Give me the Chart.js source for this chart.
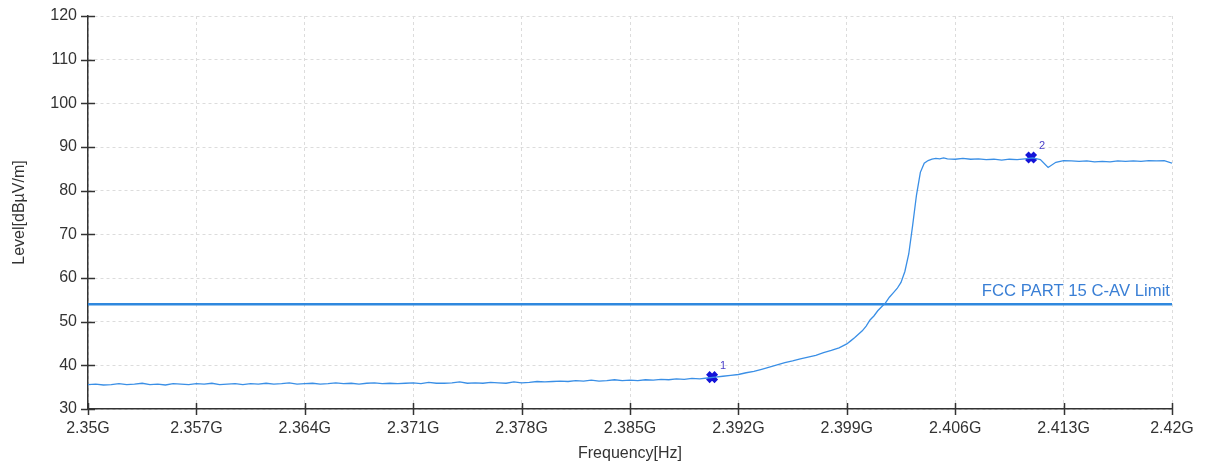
<!DOCTYPE html>
<html>
<head>
<meta charset="utf-8">
<script src="https://cdn.jsdelivr.net/npm/chart.js@4"></script>
<style>
  html, body { margin: 0; padding: 0; background: #fff; }
  #wrap { width: 1207px; height: 466px; }
</style>
</head>
<body>
<div id="wrap"><canvas id="specChart" width="1207" height="466"></canvas></div>
<script>
// frequency in MHz
const freqs = [
  2350,2350.5,2351,2351.5,2352,2352.5,2353,2353.5,2354,2354.5,2355,2355.5,2356,2356.5,2357,2357.5,2358,2358.5,2359,2359.5,2360,
  2360.5,2361,2361.5,2362,2362.5,2363,2363.5,2364,2364.5,2365,2365.5,2366,2366.5,2367,2367.5,2368,2368.5,2369,2369.5,2370,
  2370.5,2371,2371.5,2372,2372.5,2373,2373.5,2374,2374.5,2375,2375.5,2376,2376.5,2377,2377.5,2378,2378.5,2379,2379.5,2380,
  2380.5,2381,2381.5,2382,2382.5,2383,2383.5,2384,2384.5,2385,2385.5,2386,2386.5,2387,2387.5,2388,2388.5,2389,2389.5,2390,
  2390.5,2391,2391.5,2392,2392.5,2393,2393.5,2394,2394.5,2395,2395.5,2396,2396.5,2397,2397.5,2398,2398.5,2399,
  2399.25,2399.5,2399.75,2400,2400.25,2400.5,2400.75,2401,2401.25,2401.5,2401.75,2402,2402.25,2402.5,2402.75,
  2403,2403.25,2403.5,2403.75,2404,2404.25,2404.5,2404.75,2405,2405.25,2405.5,
  2406,2406.5,2407,2407.5,2408,2408.5,2409,2409.5,2410,2410.5,2411,2411.5,2412,2412.5,2413,2413.5,
  2414,2414.5,2415,2415.5,2416,2416.5,2417,2417.5,2418,2418.5,2419,2419.5,2420
];
const levels = [
  35.6,35.7,35.5,35.6,35.8,35.6,35.7,35.9,35.6,35.7,35.5,35.8,35.7,35.6,35.8,35.7,35.9,35.6,35.7,35.8,35.6,
  35.8,35.7,35.9,35.7,35.8,36.0,35.7,35.8,35.9,35.7,35.8,36.0,35.8,35.9,35.7,35.9,36.0,35.8,35.9,35.8,
  35.9,36.0,35.8,36.1,35.9,35.9,36.0,36.2,35.9,36.0,35.9,36.1,36.0,35.9,36.2,36.0,36.1,36.3,36.2,36.3,
  36.4,36.3,36.5,36.4,36.6,36.4,36.5,36.7,36.5,36.6,36.5,36.7,36.6,36.8,36.7,36.9,36.8,37.0,36.9,37.1,
  37.3,37.5,37.7,37.9,38.3,38.6,39.1,39.6,40.1,40.6,41.0,41.5,41.9,42.3,42.9,43.4,44.0,44.9,
  45.6,46.3,47.1,47.9,49.0,50.4,51.3,52.5,53.4,54.3,55.6,56.6,57.6,59.0,61.5,
  65.5,72.0,79.0,84.2,86.3,86.9,87.2,87.4,87.3,87.5,87.3,
  87.2,87.4,87.2,87.3,87.1,87.2,87.0,87.2,87.1,87.3,87.5,87.1,85.3,86.5,86.9,86.8,
  86.7,86.8,86.6,86.7,86.6,86.8,86.7,86.8,86.7,86.9,86.8,86.9,86.3
];
const limitFreqs = [2350, 2420];
const limitLevels = [54, 54];
const limitName = 'FCC PART 15 C-AV Limit';
const markerFreqs = [2390.3, 2410.9];
const markerLevels = [37.3, 87.6];
const markerNames = ['1', '2'];

const font = 'Arial, "Liberation Sans", sans-serif';

const extras = {
  id: 'extras',
  afterDraw(chart) {
    const ctx = chart.ctx;
    const xs = chart.scales.x, ys = chart.scales.y;
    const a = chart.chartArea;
    ctx.save();
    // tick marks crossing the axes
    ctx.strokeStyle = '#333';
    ctx.lineWidth = 1.5;
    ys.ticks.forEach(t => {
      const y = Math.round(ys.getPixelForValue(t.value)) + 0.5;
      ctx.beginPath(); ctx.moveTo(a.left - 7, y); ctx.lineTo(a.left + 7, y); ctx.stroke();
    });
    xs.ticks.forEach(t => {
      const x = Math.round(xs.getPixelForValue(t.value)) + 0.5;
      ctx.beginPath(); ctx.moveTo(x, a.bottom - 6); ctx.lineTo(x, a.bottom + 6); ctx.stroke();
    });
    // limit label
    ctx.fillStyle = '#3a7fd5';
    ctx.font = '16.7px ' + font;
    ctx.textAlign = 'right';
    ctx.textBaseline = 'alphabetic';
    ctx.fillText(limitName, a.right - 2, ys.getPixelForValue(limitLevels[1]) - 8);
    // marker numbers
    ctx.fillStyle = '#4a3fc8';
    ctx.font = '11px ' + font;
    ctx.textAlign = 'left';
    markerNames.forEach((n, i) => {
      ctx.fillText(n, xs.getPixelForValue(markerFreqs[i]) + 8, ys.getPixelForValue(markerLevels[i]) - 8);
    });
    ctx.restore();
  }
};

new Chart(document.getElementById('specChart'), {
  type: 'line',
  data: {
    datasets: [
      {
        label: 'Level',
        data: freqs.map((f, i) => ({x: f, y: levels[i]})),
        borderColor: '#3a8fe6',
        borderWidth: 1.3,
        pointRadius: 0,
        tension: 0
      },
      {
        label: 'Limit',
        data: limitFreqs.map((f, i) => ({x: f, y: limitLevels[i]})),
        borderColor: '#2f88de',
        borderWidth: 2.5,
        pointRadius: 0
      },
      {
        label: 'Markers',
        data: markerFreqs.map((f, i) => ({x: f, y: markerLevels[i]})),
        showLine: false,
        pointStyle: 'crossRot',
        pointRadius: 6,
        pointBorderWidth: 5,
        pointBorderColor: '#1414d8',
        pointBackgroundColor: '#1414d8'
      }
    ]
  },
  options: {
    responsive: false,
    animation: false,
    layout: {padding: {top: 16, right: 35, left: 10, bottom: 0}},
    plugins: {legend: {display: false}, tooltip: {enabled: false}},
    scales: {
      x: {
        type: 'linear',
        min: 2350, max: 2420,
        afterFit: s => { s.height = 57; s.paddingLeft = 0; s.paddingRight = 0; },
        ticks: {
          stepSize: 7,
          color: '#333',
          padding: 10,
          maxRotation: 0,
          font: {family: font, size: 16},
          callback: v => (v / 1000).toFixed(3).replace(/0+$/, '') + 'G'
        },
        grid: {color: '#dcdcdc', lineWidth: 1, drawTicks: false},
        border: {color: '#333', width: 1.5, dash: [3, 3]},
        title: {display: true, text: 'Frequency[Hz]', color: '#333', font: {family: font, size: 16}, padding: {top: 4, bottom: 3}}
      },
      y: {
        min: 30, max: 120,
        afterFit: s => { s.width = 78; s.paddingTop = 0; s.paddingBottom = 0; },
        ticks: {
          stepSize: 10,
          color: '#333',
          padding: 11,
          font: {family: font, size: 16}
        },
        grid: {color: '#dcdcdc', lineWidth: 1, drawTicks: false},
        border: {color: '#333', width: 1.5, dash: [3, 3]},
        title: {display: true, text: 'Level[dBµV/m]', color: '#333', font: {family: font, size: 16}, padding: {top: 0, bottom: 0}}
      }
    }
  },
  plugins: [extras]
});
</script>
</body>
</html>
